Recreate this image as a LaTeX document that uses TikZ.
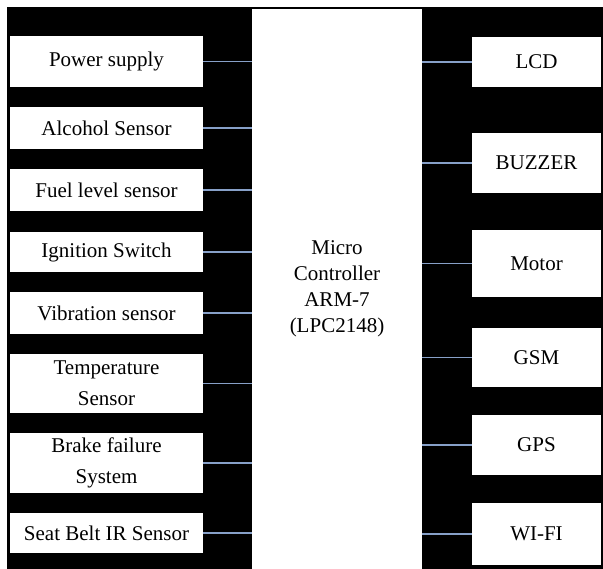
\documentclass[tikz,border=0pt]{standalone}
\usepackage{fontspec}
\setmainfont{Liberation Serif}

\tikzset{
    blk/.style={fill=white, draw=none, inner sep=0pt, align=center,
        font=\fontsize{21}{31}\selectfont},
    inbox/.style={blk, minimum width=193pt},
    outbox/.style={blk, minimum width=129pt},
    link/.style={line width=1.6pt, color={rgb,255:red,135;green,160;blue,200}},
}

\begin{document}
\begin{tikzpicture}[x=1pt, y=-1pt]
    \useasboundingbox (0,0) rectangle (603,569);
    %% Background
    \fill[black] (7,7) rectangle (603,569);

    %% Controller
    \node[blk, minimum width=170pt, minimum height=560pt,
        font=\fontsize{21}{26}\selectfont]
        (mcu) at (337,289) {Micro\\Controller\\ARM-7\\(LPC2148)};

    %% Inputs
    \node[inbox, minimum height=51pt] (pwr)  at (106.5,61.5) {Power supply};
    \node[inbox, minimum height=42pt] (alc)  at (106.5,128)  {Alcohol Sensor};
    \node[inbox, minimum height=42pt] (fuel) at (106.5,190)  {Fuel level sensor};
    \node[inbox, minimum height=40pt] (ign)  at (106.5,252)  {Ignition Switch};
    \node[inbox, minimum height=42pt] (vib)  at (106.5,313)  {Vibration sensor};
    \node[inbox, minimum height=59pt] (temp) at (106.5,383.5) {Temperature\\Sensor};
    \node[inbox, minimum height=60pt] (brk)  at (106.5,463)  {Brake failure\\System};
    \node[inbox, minimum height=40pt] (belt) at (106.5,533)  {Seat Belt IR Sensor};

    %% Outputs
    \node[outbox, minimum height=50pt] (lcd)  at (536.5,62)    {LCD};
    \node[outbox, minimum height=60pt] (buz)  at (536.5,163)   {BUZZER};
    \node[outbox, minimum height=67pt] (mot)  at (536.5,263.5) {Motor};
    \node[outbox, minimum height=59pt] (gsm)  at (536.5,357.5) {GSM};
    \node[outbox, minimum height=60pt] (gps)  at (536.5,445)   {GPS};
    \node[outbox, minimum height=62pt] (wifi) at (536.5,534)   {WI-FI};

    %% Links
    \foreach \n in {pwr,alc,fuel,ign,vib,temp,brk,belt}
        \draw[link] (\n.east) -- (\n.east -| mcu.west);
    \foreach \n in {lcd,buz,mot,gsm,gps,wifi}
        \draw[link] (\n.west) -- (\n.west -| mcu.east);
\end{tikzpicture}
\end{document}
